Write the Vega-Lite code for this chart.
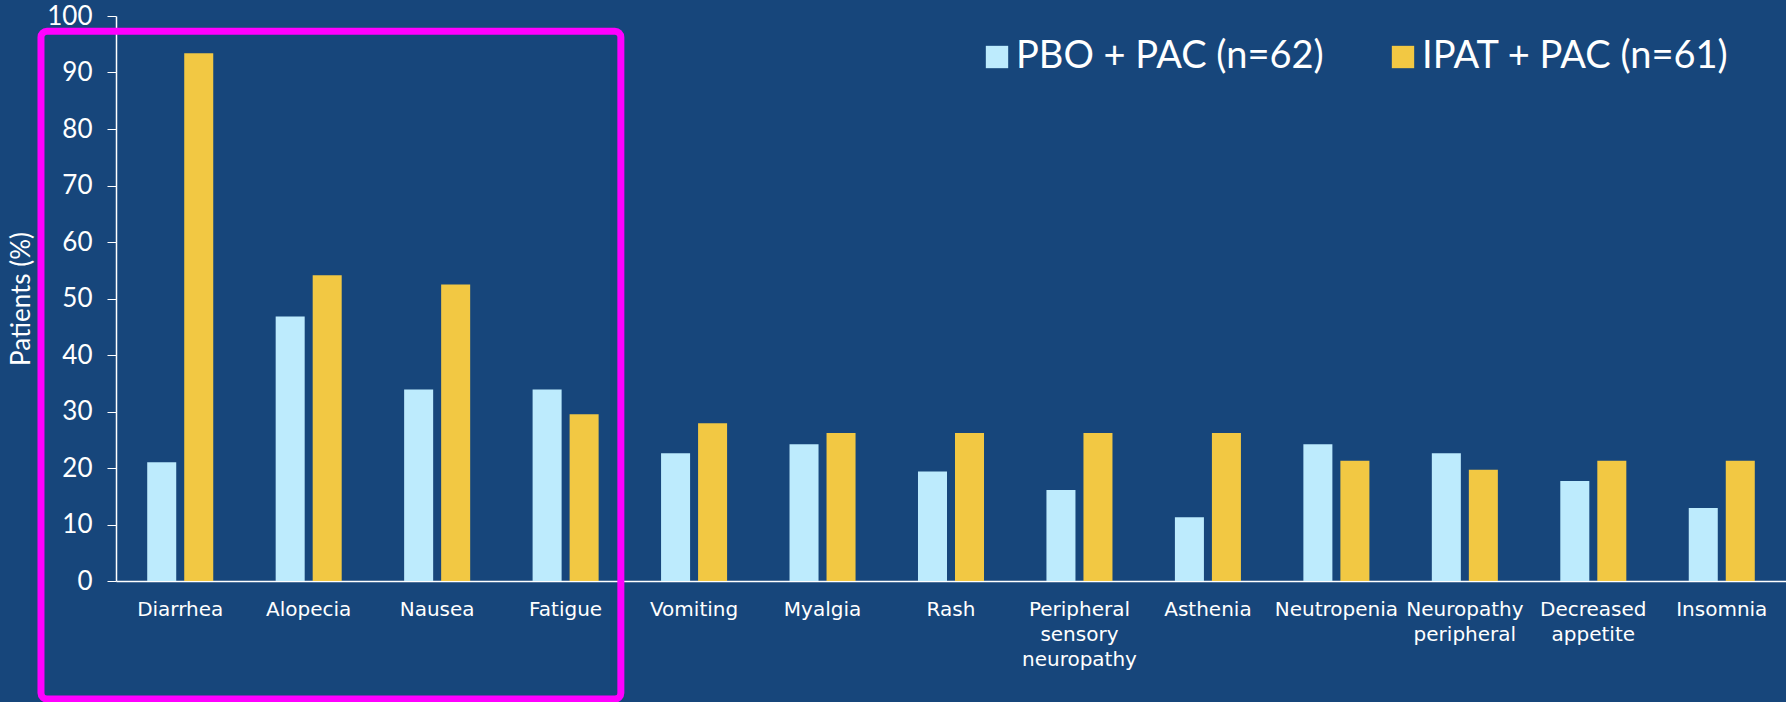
{
  "$schema": "https://vega.github.io/schema/vega-lite/v6.json",
  "autosize": "none",
  "width": 1670,
  "height": 565,
  "padding": {"left": 116, "top": 16, "right": 0, "bottom": 121},
  "background": "#17467B",
  "config": {
    "view": {"stroke": null},
    "font": "Lato"
  },
  "datasets": {
    "ae": [
      {"event": "Diarrhea", "arm": "PBO + PAC (n=62)", "pct": 21.0},
      {"event": "Diarrhea", "arm": "IPAT + PAC (n=61)", "pct": 93.4},
      {"event": "Alopecia", "arm": "PBO + PAC (n=62)", "pct": 46.8},
      {"event": "Alopecia", "arm": "IPAT + PAC (n=61)", "pct": 54.1},
      {"event": "Nausea", "arm": "PBO + PAC (n=62)", "pct": 33.9},
      {"event": "Nausea", "arm": "IPAT + PAC (n=61)", "pct": 52.5},
      {"event": "Fatigue", "arm": "PBO + PAC (n=62)", "pct": 33.9},
      {"event": "Fatigue", "arm": "IPAT + PAC (n=61)", "pct": 29.5},
      {"event": "Vomiting", "arm": "PBO + PAC (n=62)", "pct": 22.6},
      {"event": "Vomiting", "arm": "IPAT + PAC (n=61)", "pct": 27.9},
      {"event": "Myalgia", "arm": "PBO + PAC (n=62)", "pct": 24.2},
      {"event": "Myalgia", "arm": "IPAT + PAC (n=61)", "pct": 26.2},
      {"event": "Rash", "arm": "PBO + PAC (n=62)", "pct": 19.4},
      {"event": "Rash", "arm": "IPAT + PAC (n=61)", "pct": 26.2},
      {"event": "Peripheral sensory neuropathy", "arm": "PBO + PAC (n=62)", "pct": 16.1},
      {"event": "Peripheral sensory neuropathy", "arm": "IPAT + PAC (n=61)", "pct": 26.2},
      {"event": "Asthenia", "arm": "PBO + PAC (n=62)", "pct": 11.3},
      {"event": "Asthenia", "arm": "IPAT + PAC (n=61)", "pct": 26.2},
      {"event": "Neutropenia", "arm": "PBO + PAC (n=62)", "pct": 24.2},
      {"event": "Neutropenia", "arm": "IPAT + PAC (n=61)", "pct": 21.3},
      {"event": "Neuropathy peripheral", "arm": "PBO + PAC (n=62)", "pct": 22.6},
      {"event": "Neuropathy peripheral", "arm": "IPAT + PAC (n=61)", "pct": 19.7},
      {"event": "Decreased appetite", "arm": "PBO + PAC (n=62)", "pct": 17.7},
      {"event": "Decreased appetite", "arm": "IPAT + PAC (n=61)", "pct": 21.3},
      {"event": "Insomnia", "arm": "PBO + PAC (n=62)", "pct": 12.9},
      {"event": "Insomnia", "arm": "IPAT + PAC (n=61)", "pct": 21.3}
    ],
    "highlight": [
      {"from": -0.584, "to": 3.93, "top": 97.3, "bottom": -20.9}
    ]
  },
  "layer": [
    {
      "data": {"name": "ae"},
      "mark": {"type": "bar"},
      "encoding": {
        "x": {
          "field": "event",
          "type": "nominal",
          "sort": null,
          "scale": {"paddingInner": 0.486, "paddingOuter": 0.243},
          "axis": {
            "title": null,
            "labelAngle": 0,
            "labelFont": "DejaVu Sans",
            "labelFontSize": 20,
            "labelColor": "#FFFFFF",
            "labelPadding": 18,
            "labelLineHeight": 25,
            "labelOverlap": false,
            "labelLimit": 0,
            "labelExpr": "indexof(datum.value, ' ') > 0 ? split(datum.value, ' ') : datum.value",
            "ticks": false,
            "domainColor": "#FFFFFF",
            "domainWidth": 1.5,
            "grid": false
          }
        },
        "xOffset": {
          "field": "arm",
          "type": "nominal",
          "sort": ["PBO + PAC (n=62)", "IPAT + PAC (n=61)"],
          "scale": {"paddingInner": 0.216, "paddingOuter": 0}
        },
        "y": {
          "field": "pct",
          "type": "quantitative",
          "scale": {"domain": [0, 100], "nice": false},
          "axis": {
            "title": "Patients (%)",
            "titleFont": "Lato",
            "titleFontSize": 26,
            "titleFontWeight": "normal",
            "titleColor": "#FFFFFF",
            "titlePadding": 12,
            "values": [0, 10, 20, 30, 40, 50, 60, 70, 80, 90, 100],
            "labelFont": "Lato",
            "labelFontSize": 26,
            "labelColor": "#FFFFFF",
            "labelPadding": 15,
            "tickSize": 9,
            "tickColor": "#FFFFFF",
            "domainColor": "#FFFFFF",
            "domainWidth": 1.5,
            "grid": false
          }
        },
        "color": {
          "field": "arm",
          "type": "nominal",
          "scale": {
            "domain": ["PBO + PAC (n=62)", "IPAT + PAC (n=61)"],
            "range": ["#BDEBFD", "#F2C843"]
          },
          "legend": {
            "title": null,
            "orient": "none",
            "legendX": 862,
            "legendY": 22,
            "direction": "horizontal",
            "columns": 2,
            "columnPadding": 60,
            "symbolType": "square",
            "symbolSize": 500,
            "symbolStrokeWidth": 0,
            "labelFont": "Lato",
            "labelFontSize": 38,
            "labelColor": "#FFFFFF",
            "labelOffset": 0,
            "labelLimit": 0
          }
        }
      }
    },
    {
      "data": {"name": "highlight"},
      "mark": {
        "type": "rect",
        "fill": null,
        "stroke": "#FF00FF",
        "strokeWidth": 7,
        "cornerRadius": 6,
        "clip": false
      },
      "encoding": {
        "x": {"field": "from", "type": "quantitative", "scale": {"domain": [0, 13], "nice": false, "zero": false}, "axis": null},
        "x2": {"field": "to"},
        "y": {"field": "top", "type": "quantitative"},
        "y2": {"field": "bottom"}
      }
    }
  ],
  "resolve": {"scale": {"x": "independent"}}
}
